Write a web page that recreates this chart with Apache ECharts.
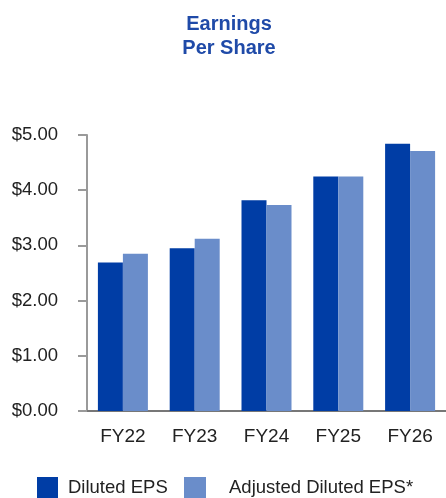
<!DOCTYPE html>
<html>
<head>
<meta charset="utf-8">
<script src="https://cdn.jsdelivr.net/npm/echarts@6/dist/echarts.min.js"></script>
<style>html,body{margin:0;padding:0;background:#fff;}#c{width:446px;height:498px;}</style>
</head>
<body>
<div id="c"></div>
<script>
const categories = ['FY22', 'FY23', 'FY24', 'FY25', 'FY26'];
const dilutedEPS = [2.69, 2.95, 3.82, 4.25, 4.84];
const adjustedEPS = [2.85, 3.12, 3.73, 4.25, 4.71];
const seriesNames = ['Diluted EPS', 'Adjusted Diluted EPS*'];
const titleText = 'Earnings\nPer Share';

const chart = echarts.init(document.getElementById('c'), null, {renderer: 'canvas'});
const font = 'Liberation Sans, Arial, sans-serif';
chart.setOption({
  animation: false,
  title: {
    text: titleText,
    left: 229,
    top: 12,
    padding: 0,
    textAlign: 'center',
    textStyle: {color: '#1f4aa8', fontSize: 20, fontWeight: 'bold', fontFamily: font, lineHeight: 24}
  },
  legend: [{
    data: [seriesNames[0]],
    left: 37, top: 477, padding: 0,
    itemWidth: 21, itemHeight: 21,
    icon: 'rect',
    textStyle: {fontSize: 18.5, color: '#222', fontFamily: font, padding: [0, 0, 0, 5]}
  }, {
    data: [seriesNames[1]],
    left: 184, top: 477, padding: 0,
    itemWidth: 22, itemHeight: 21,
    icon: 'rect',
    textStyle: {fontSize: 18.5, color: '#222', fontFamily: font, padding: [0, 0, 0, 18]}
  }],
  grid: {left: 87, top: 135, width: 362.5, height: 276, containLabel: false},
  xAxis: {
    type: 'category',
    data: categories,
    axisLine: {show: true, lineStyle: {color: '#777', width: 2}},
    axisTick: {show: false},
    axisLabel: {fontSize: 19, color: '#222', fontFamily: font, margin: 16}
  },
  yAxis: {
    type: 'value',
    min: 0, max: 5, interval: 1,
    axisLine: {show: true, lineStyle: {color: '#9a9a9a', width: 2}},
    axisTick: {show: true, length: 9, lineStyle: {color: '#9a9a9a', width: 2}},
    splitLine: {show: false},
    axisLabel: {fontSize: 18.5, color: '#222', fontFamily: font, margin: 29,
      formatter: v => '$' + v.toFixed(2)}
  },
  series: [{
    name: seriesNames[0], type: 'bar', data: dilutedEPS,
    barWidth: 25, barGap: '0%',
    itemStyle: {color: '#003da5'}
  }, {
    name: seriesNames[1], type: 'bar', data: adjustedEPS,
    barWidth: 25, barGap: '0%',
    itemStyle: {color: '#6a8dca'}
  }]
});
</script>
</body>
</html>
